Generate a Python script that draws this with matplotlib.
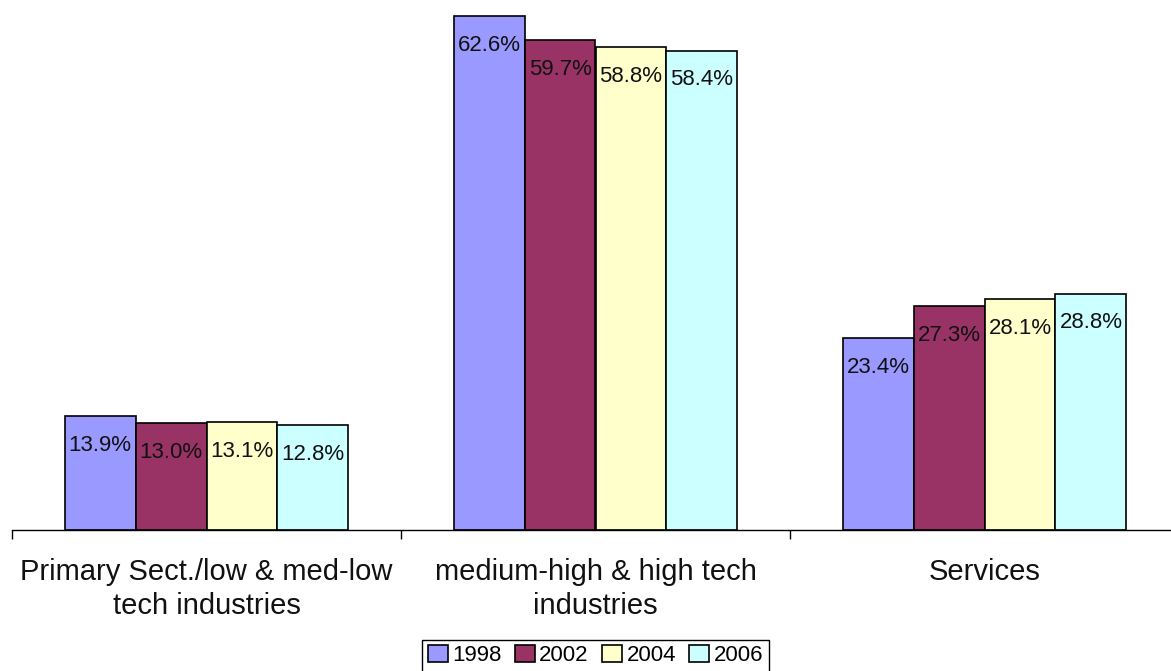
import matplotlib.pyplot as plt
import numpy as np

categories = ["Primary Sect./low & med-low\ntech industries",
              "medium-high & high tech\nindustries",
              "Services"]
years = ["1998", "2002", "2004", "2006"]
share_1998 = [13.9, 62.6, 23.4]
share_2002 = [13.0, 59.7, 27.3]
share_2004 = [13.1, 58.8, 28.1]
share_2006 = [12.8, 58.4, 28.8]
colors = ["#9999FF", "#993366", "#FFFFCC", "#CCFFFF"]

plt.rcParams["font.family"] = ["Liberation Sans", "DejaVu Sans"]

W, H = 1171, 671
fig = plt.figure(figsize=(W/100, H/100), dpi=100)
# axis baseline at y=530 px, groups 389 px wide starting at x=12
ax = fig.add_axes([12/W, (H - 530)/H, 1167/W, 64*8.21/H])

x = np.arange(len(categories))
bw = 0.1825
series = [share_1998, share_2002, share_2004, share_2006]
for i, (vals, col, yr) in enumerate(zip(series, colors, years)):
    pos = x + (i - 1.5)*bw
    bars = ax.bar(pos, vals, bw, color=col, edgecolor="black", linewidth=1.2, label=yr)
    for b, v in zip(bars, vals):
        ax.annotate("%.1f%%" % v, (b.get_x() + b.get_width()/2, v),
                    xytext=(0, -21), textcoords="offset points",
                    ha="center", va="center", fontsize=16, color="#111111")

ax.set_xlim(-0.5, 2.5)
ax.set_ylim(0, 64)
for side in ["top", "left", "right"]:
    ax.spines[side].set_visible(False)
ax.spines["bottom"].set_color("black")
ax.spines["bottom"].set_linewidth(1.0)
ax.set_yticks([])
ax.set_xticks([-0.5, 0.5, 1.5, 2.5])
ax.set_xticklabels([])
ax.tick_params(axis="x", which="major", direction="out", length=6.5, width=1.0, color="black")
ax.set_xticks(x, categories, minor=True)
ax.tick_params(axis="x", which="minor", length=0, pad=20, labelsize=21, labelcolor="#111111")
for lbl in ax.get_xticklabels(minor=True):
    lbl.set_linespacing(1.28)

fig.legend(loc="upper center", bbox_to_anchor=(595.5/W, 31.5/H), ncol=4,
           fontsize=16, frameon=True, fancybox=False, framealpha=1,
           edgecolor="black", handlelength=0.9, handleheight=0.78,
           handletextpad=0.2, columnspacing=0.6, borderpad=0.25,
           borderaxespad=0)

fig.savefig("out.png", dpi=100)
